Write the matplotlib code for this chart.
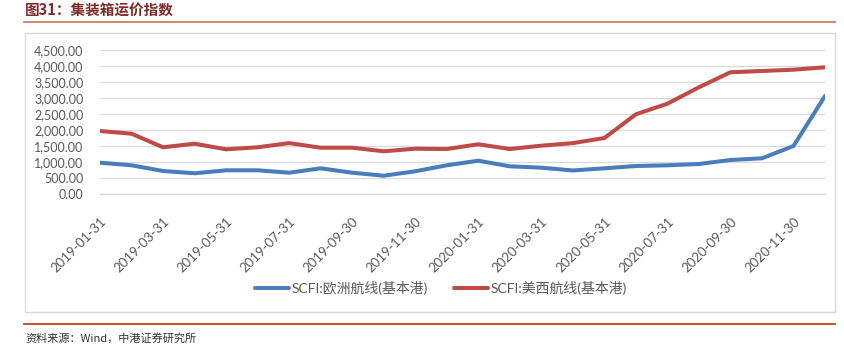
import matplotlib
matplotlib.use("Agg")
import matplotlib.pyplot as plt
from matplotlib.patches import Rectangle
from matplotlib.lines import Line2D

dates = ["2019-01-31", "2019-02-28", "2019-03-31", "2019-04-30", "2019-05-31", "2019-06-30",
         "2019-07-31", "2019-08-31", "2019-09-30", "2019-10-31", "2019-11-30", "2019-12-31",
         "2020-01-31", "2020-02-29", "2020-03-31", "2020-04-30", "2020-05-31", "2020-06-30",
         "2020-07-31", "2020-08-31", "2020-09-30", "2020-10-31", "2020-11-30", "2020-12-31"]
europe = [988, 906, 728, 656, 750, 750, 675, 812, 675, 581, 719, 906,
          1050, 875, 831, 745, 812, 884, 906, 947, 1072, 1125, 1509, 3072]
uswest = [1978, 1894, 1469, 1582, 1406, 1469, 1600, 1456, 1456, 1344, 1425, 1415,
          1563, 1415, 1519, 1600, 1759, 2500, 2831, 3344, 3813, 3853, 3894, 3969]
series_names = ["SCFI:欧洲航线(基本港)", "SCFI:美西航线(基本港)"]
yticks = [0, 500, 1000, 1500, 2000, 2500, 3000, 3500, 4000, 4500]
title = "图31：集装箱运价指数"
source = "资料来源：Wind，中港证券研究所"

FONT = ["Lato", "Noto Sans CJK SC", "DejaVu Sans"]
plt.rcParams["font.family"] = FONT

W, H = 845, 351
fig = plt.figure(figsize=(W / 100, H / 100), dpi=100)

def fx(px):
    return px / W

def fy(py):
    return 1 - py / H

# frame box
fig.patches.append(Rectangle((fx(25), fy(312)), fx(835) - fx(25), fy(32.5) - fy(312),
                             transform=fig.transFigure, fill=False, edgecolor="#d9d9d9", lw=1.0))
# title & line
fig.text(fx(25), fy(11), title, fontsize=10.5, fontweight="bold", color="#7f2b2b",
         va="center", ha="left", family=["Noto Sans CJK SC", "DejaVu Sans"])
fig.add_artist(Line2D([fx(24), fx(835)], [fy(22), fy(22)], transform=fig.transFigure,
                      color="#cc7f66", lw=1.3))
# footer line & text
fig.add_artist(Line2D([fx(24), fx(835)], [fy(324), fy(324)], transform=fig.transFigure,
                      color="#c0451f", lw=1.3))
fig.text(fx(25), fy(338), source, fontsize=8, color="#333333", style="italic",
         va="center", ha="left", family=["Noto Sans CJK SC", "DejaVu Sans"])

ax = fig.add_axes([fx(100), fy(194.3), fx(825) - fx(100), fy(50.3) - fy(194.3)])
x = list(range(len(dates)))
l1, = ax.plot(x, europe, color="#4a7ebb", lw=2.9, solid_capstyle="round", label=series_names[0])
l2, = ax.plot(x, uswest, color="#be4b48", lw=2.9, solid_capstyle="round", label=series_names[1])

ax.set_xlim(0, len(dates) - 1)
ax.set_ylim(0, 4500)
ax.set_yticks(yticks)
ax.set_yticklabels([f"{v:,.2f}" for v in yticks])
ax.grid(axis="y", color="#d9d9d9", lw=0.9)
ax.set_axisbelow(True)
for s in ["top", "right", "left"]:
    ax.spines[s].set_visible(False)
ax.spines["bottom"].set_color("#d9d9d9")
ax.spines["bottom"].set_linewidth(0.9)

tick_idx = x[::2]
ax.set_xticks(tick_idx)
ax.set_xticklabels([dates[i] for i in tick_idx], rotation=45, ha="right",
                   rotation_mode="anchor")
ax.tick_params(axis="both", length=0, colors="#595959")
ax.tick_params(axis="y", pad=12, labelsize=9)
ax.tick_params(axis="x", pad=15, labelsize=9.5)

fig.legend(handles=[l1, l2], loc="center", bbox_to_anchor=(fx(441), fy(288)), ncol=2,
           frameon=False, fontsize=10, labelcolor="#595959", handlelength=2.45,
           handletextpad=0.15, columnspacing=1.9)

fig.savefig("out.png", dpi=100, facecolor="white")
